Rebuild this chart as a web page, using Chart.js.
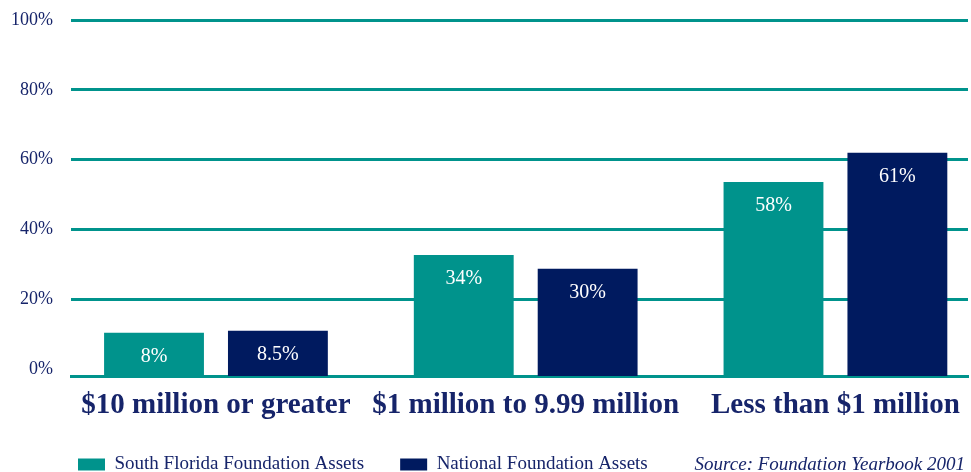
<!DOCTYPE html>
<html>
<head>
<meta charset="utf-8">
<script src="https://cdn.jsdelivr.net/npm/chart.js@4/dist/chart.umd.min.js"></script>
<style>
  html, body { margin: 0; padding: 0; background: #ffffff; }
  #wrap { width: 971px; height: 472px; position: relative; }
</style>
</head>
<body>
<div id="wrap"><canvas id="c"></canvas></div>
<script>
// ---- data ----
const categories = ["$10 million or greater", "$1 million to 9.99 million", "Less than $1 million"];
const seriesNames = ["South Florida Foundation Assets", "National Foundation Assets"];
const southFlorida = [10.4, 32.7, 53.6];      // bar heights as drawn
const national = [11.0, 28.7, 62.0];          // bar heights as drawn
const southFloridaLabels = ["8%", "34%", "58%"];
const nationalLabels = ["8.5%", "30%", "61%"];
const yTicks = [0, 20, 40, 60, 80, 100];
const sourceNote = "Source: Foundation Yearbook 2001";

// ---- styles ----
const TEAL = "#00938C";
const NAVY = "#001A5F";
const TEXT = "#16246A";
const SERIF = "'Liberation Serif', 'Times New Roman', serif";

const labelPlugin = {
  id: "barLabels",
  afterDatasetsDraw(chart) {
    const ctx = chart.ctx;
    const labelSets = [southFloridaLabels, nationalLabels];
    ctx.save();
    ctx.fillStyle = "#ffffff";
    ctx.font = "20px " + SERIF;
    ctx.textAlign = "center";
    ctx.textBaseline = "middle";
    chart.data.datasets.forEach((ds, di) => {
      const meta = chart.getDatasetMeta(di);
      meta.data.forEach((bar, i) => {
        ctx.fillText(labelSets[di][i], bar.x, bar.y + 24);
      });
    });
    ctx.restore();
  }
};

// nudge the legend box right/down and give the x labels room below the axis
const layoutTweak = {
  id: "layoutTweak",
  afterLayout(chart) {
    const lg = chart.legend;
    if (lg) {
      lg.left += 42; lg.right += 42;
      lg.top += 12; lg.bottom += 12;
    }
    const xs = chart.scales.x;
    if (xs) { xs.bottom += 30; xs.height += 30; }
  }
};

const sourcePlugin = {
  id: "sourceNote",
  afterDraw(chart) {
    const lg = chart.legend;
    if (!lg || !lg.legendHitBoxes || !lg.legendHitBoxes.length) return;
    const hb = lg.legendHitBoxes[0];
    const ctx = chart.ctx;
    ctx.save();
    ctx.fillStyle = TEXT;
    ctx.font = "italic 19px " + SERIF;
    ctx.textAlign = "right";
    ctx.textBaseline = "middle";
    ctx.fillText(sourceNote, 965, hb.top + hb.height / 2);
    ctx.restore();
  }
};

new Chart(document.getElementById("c"), {
  type: "bar",
  data: {
    datasets: [
      { label: seriesNames[0], data: southFlorida.map((v, i) => ({ x: i, y: v })), backgroundColor: TEAL, base: -2 },
      { label: seriesNames[1], data: national.map((v, i) => ({ x: i, y: v })), backgroundColor: NAVY, base: -2 }
    ]
  },
  options: {
    responsive: true,
    maintainAspectRatio: false,
    animation: false,
    categoryPercentage: 0.8,
    barPercentage: 0.806,
    layout: { padding: { left: 0, right: 3, top: 20, bottom: 0 } },
    plugins: {
      tooltip: { enabled: false },
      legend: {
        position: "bottom",
        align: "start",
        labels: {
          boxWidth: 27,
          boxHeight: 12,
          padding: 36,
          color: TEXT,
          font: { family: SERIF, size: 19 }
        }
      }
    },
    scales: {
      x: {
        type: "linear",
        offset: false,
        min: -0.468,
        max: 2.428,
        grid: { display: false, drawTicks: false, offset: false },
        border: { display: true, color: TEAL, width: 3 },
        afterBuildTicks: (s) => { s.ticks = categories.map((c, i) => ({ value: i })); },
        afterFit: (s) => { s.height = 31; s.paddingLeft = 0; s.paddingRight = 0; },
        ticks: {
          autoSkip: false,
          maxRotation: 0,
          padding: 12,
          color: TEXT,
          font: { family: SERIF, size: 29, weight: "bold" },
          callback: (v) => categories[v]
        }
      },
      y: {
        min: -2,
        max: 100,
        afterBuildTicks: (s) => { s.ticks = yTicks.map(v => ({ value: v })); },
        afterFit: (s) => { s.width = 71; s.paddingTop = 0; s.paddingBottom = 0; },
        grid: {
          drawTicks: false,
          lineWidth: 3,
          color: (c) => (c.tick && c.tick.value === 0) ? "rgba(0,0,0,0)" : TEAL
        },
        border: { display: false },
        ticks: {
          padding: 18,
          color: TEXT,
          font: { family: SERIF, size: 18 },
          callback: (v) => v + "%"
        }
      }
    }
  },
  plugins: [layoutTweak, labelPlugin, sourcePlugin]
});
</script>
</body>
</html>
